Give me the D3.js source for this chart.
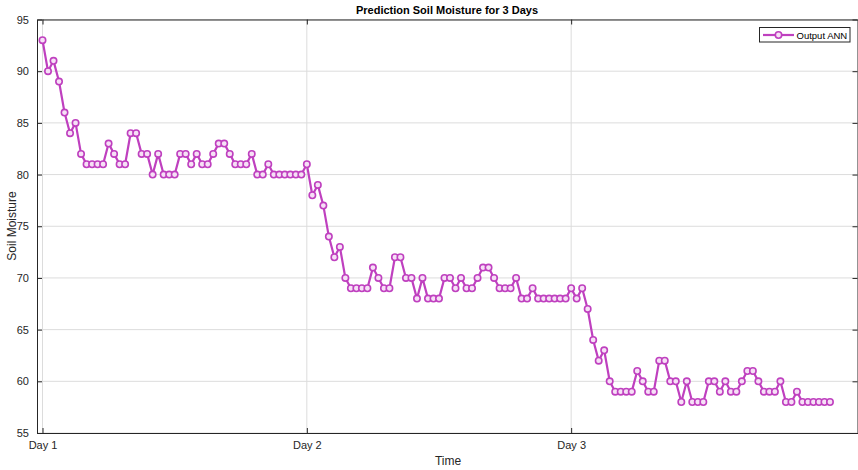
<!DOCTYPE html>
<html><head><meta charset="utf-8">
<script src="https://cdn.jsdelivr.net/npm/d3@7"></script>
<style>body{margin:0;background:#fff}svg{display:block}text{font-family:"Liberation Sans",Arial,sans-serif}</style>
</head><body><svg id="c" width="858" height="470"></svg>
<script>
const dayLabels = ["Day 1","Day 2","Day 3"];
const dayIndex = [0,48,96];
const yTicks = [55,60,65,70,75,80,85,90,95];
const outputANN = [
93,90,91,89,86,84,85,82,81,81,81,81,83,82,81,81,84,84,82,82,80,82,80,80,80,82,82,81,82,81,81,82,83,83,82,81,81,81,82,80,80,81,80,80,80,80,80,80,
81,78,79,77,74,72,73,70,69,69,69,69,71,70,69,69,72,72,70,70,68,70,68,68,68,70,70,69,70,69,69,70,71,71,70,69,69,69,70,68,68,69,68,68,68,68,68,68,
69,68,69,67,64,62,63,60,59,59,59,59,61,60,59,59,62,62,60,60,58,60,58,58,58,60,60,59,60,59,59,60,61,61,60,59,59,59,60,58,58,59,58,58,58,58,58,58
];
const color = "#bf40bf";
const svg = d3.select("#c");
const L=37, R=857.5, T=19.5, B=433;
const x = d3.scaleLinear().domain([-1,148]).range([L,R]);
const y = d3.scaleLinear().domain([55,95]).range([B,T]);
const g = svg.append("g");
g.selectAll(".gy").data(yTicks).enter().append("line")
 .attr("x1",L).attr("x2",R).attr("y1",d=>y(d)).attr("y2",d=>y(d))
 .attr("stroke","#dcdcdc").attr("stroke-width",1);
g.selectAll(".gx").data(dayIndex).enter().append("line")
 .attr("x1",d=>x(d)).attr("x2",d=>x(d)).attr("y1",T).attr("y2",B)
 .attr("stroke","#dcdcdc").attr("stroke-width",1);
const xa = d3.axisBottom(x).tickValues(dayIndex).tickFormat((d,i)=>dayLabels[i]).tickSizeInner(-5).tickSizeOuter(0).tickPadding(8);
const ya = d3.axisLeft(y).tickValues(yTicks).tickSizeInner(-5).tickSizeOuter(0).tickPadding(8);
const xg = svg.append("g").attr("transform",`translate(0,${B})`).call(xa);
const yg = svg.append("g").attr("transform",`translate(${L},0)`).call(ya);
const xt = svg.append("g").attr("transform",`translate(0,${T})`).call(d3.axisTop(x).tickValues(dayIndex).tickFormat("").tickSizeInner(-5).tickSizeOuter(0));
const yr = svg.append("g").attr("transform",`translate(${R},0)`).call(d3.axisRight(y).tickValues(yTicks).tickFormat("").tickSizeInner(-5).tickSizeOuter(0));
[xg,yg,xt,yr].forEach(a=>{
 a.select(".domain").attr("stroke","#262626").attr("stroke-width",1);
 a.selectAll(".tick line").attr("stroke","#262626");
 a.selectAll(".tick text").attr("fill","#262626").style("font-size","11px");
});
const line = d3.line().x((d,i)=>x(i)).y(d=>y(d));
svg.append("path").datum(outputANN).attr("d",line).attr("fill","none")
 .attr("stroke",color).attr("stroke-width",2.2).attr("stroke-linejoin","round");
svg.selectAll(".pt").data(outputANN).enter().append("circle")
 .attr("cx",(d,i)=>x(i)).attr("cy",d=>y(d)).attr("r",3.2)
 .attr("fill","#f6e0f6").attr("stroke",color).attr("stroke-width",1.6);
svg.append("text").attr("x",447).attr("y",13.5).attr("text-anchor","middle")
 .style("font-size","11px").style("font-weight","bold").attr("fill","#000").text("Prediction Soil Moisture for 3 Days");
svg.append("text").attr("x",448).attr("y",465).attr("text-anchor","middle")
 .style("font-size","12px").attr("fill","#262626").text("Time");
svg.append("text").attr("transform","translate(16,226) rotate(-90)").attr("text-anchor","middle")
 .style("font-size","12px").attr("fill","#262626").text("Soil Moisture");
const lg = svg.append("g");
lg.append("rect").attr("x",759.5).attr("y",27.5).attr("width",90.5).attr("height",14.5)
 .attr("fill","#fff").attr("stroke","#262626").attr("stroke-width",1);
lg.append("line").attr("x1",763).attr("x2",794).attr("y1",35).attr("y2",35).attr("stroke",color).attr("stroke-width",2.2);
lg.append("circle").attr("cx",778.5).attr("cy",35).attr("r",3.2).attr("fill","#f6e0f6").attr("stroke",color).attr("stroke-width",1.6);
lg.append("text").attr("x",796.5).attr("y",38.5).style("font-size","9.5px").attr("fill","#000").text("Output ANN");
</script></body></html>
